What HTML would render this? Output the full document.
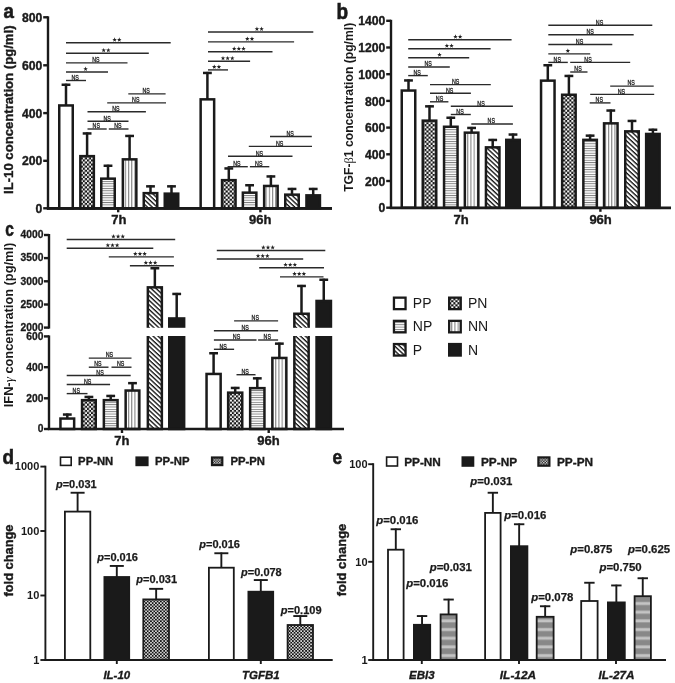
<!DOCTYPE html>
<html><head><meta charset="utf-8"><title>figure</title>
<style>html,body{margin:0;padding:0;background:#fff;}svg{display:block;filter:grayscale(1)}text{font-family:"Liberation Sans",sans-serif;}</style>
</head><body>
<svg width="675" height="683" viewBox="0 0 675 683" font-family="Liberation Sans, sans-serif">
<defs>
<pattern id="pn" width="4.14" height="4.14" patternUnits="userSpaceOnUse"><rect width="4.14" height="4.14" fill="#111"/><rect x="0.05" y="0.05" width="2.0" height="2.0" fill="#fff"/><rect x="2.12" y="2.12" width="2.0" height="2.0" fill="#fff"/></pattern>
<pattern id="pnl" width="2.7" height="2.7" patternUnits="userSpaceOnUse" x="0.5" y="0.4"><rect width="2.7" height="2.7" fill="#111"/><rect x="0" y="0" width="1.3" height="1.3" fill="#f4f4f4"/><rect x="1.35" y="1.35" width="1.3" height="1.3" fill="#f4f4f4"/></pattern>
<pattern id="np" width="2.35" height="2.35" patternUnits="userSpaceOnUse"><rect width="2.35" height="2.35" fill="#fff"/><rect x="0" y="0" width="2.35" height="0.9" fill="#7c7c7c"/></pattern>
<pattern id="nn" width="3.2" height="3.2" patternUnits="userSpaceOnUse"><rect width="3.2" height="3.2" fill="#fff"/><rect x="0" y="0" width="1.1" height="3.2" fill="#858585"/></pattern>
<pattern id="pd" width="3.35" height="3.35" patternUnits="userSpaceOnUse" patternTransform="rotate(43)"><rect width="3.35" height="3.35" fill="#fff"/><rect x="0" y="0" width="3.35" height="1.35" fill="#111"/></pattern>
<linearGradient id="peg" x1="0" y1="0" x2="0" y2="1"><stop offset="0" stop-color="#888"/><stop offset="0.27" stop-color="#888"/><stop offset="0.43" stop-color="#c4c4c4"/><stop offset="0.61" stop-color="#c4c4c4"/><stop offset="0.77" stop-color="#888"/><stop offset="1" stop-color="#888"/></linearGradient>
<pattern id="pe" width="20" height="8.68" patternUnits="userSpaceOnUse"><rect width="20" height="8.68" fill="url(#peg)"/></pattern>
<pattern id="pnd" width="3.3" height="3.3" patternUnits="userSpaceOnUse"><rect width="3.3" height="3.3" fill="#111"/><rect x="0.1" y="0.1" width="1.5" height="1.5" fill="#fff"/><rect x="1.75" y="1.75" width="1.5" height="1.5" fill="#fff"/></pattern>
</defs>
<rect width="675" height="683" fill="#fff"/>
<g opacity="0.999">

<text x="3.60" y="17.60" font-size="20" text-anchor="start" font-weight="bold" font-style="normal" fill="#1a1a1a" textLength="10.4" lengthAdjust="spacingAndGlyphs" stroke="#1a1a1a" stroke-width="0.60">a</text>
<line x1="48.00" y1="16.30" x2="48.00" y2="209.30" stroke="#1a1a1a" stroke-width="2.4" stroke-linecap="butt"/>
<line x1="47.00" y1="208.30" x2="332.00" y2="208.30" stroke="#1a1a1a" stroke-width="2.7" stroke-linecap="butt"/>
<line x1="43.20" y1="17.30" x2="48.00" y2="17.30" stroke="#1a1a1a" stroke-width="2.4" stroke-linecap="butt"/>
<text x="42.40" y="21.90" font-size="12.2" text-anchor="end" font-weight="bold" font-style="normal" fill="#1a1a1a"  stroke="#1a1a1a" stroke-width="0.37">800</text>
<line x1="43.20" y1="65.30" x2="48.00" y2="65.30" stroke="#1a1a1a" stroke-width="2.4" stroke-linecap="butt"/>
<text x="42.40" y="69.90" font-size="12.2" text-anchor="end" font-weight="bold" font-style="normal" fill="#1a1a1a"  stroke="#1a1a1a" stroke-width="0.37">600</text>
<line x1="43.20" y1="113.10" x2="48.00" y2="113.10" stroke="#1a1a1a" stroke-width="2.4" stroke-linecap="butt"/>
<text x="42.40" y="117.70" font-size="12.2" text-anchor="end" font-weight="bold" font-style="normal" fill="#1a1a1a"  stroke="#1a1a1a" stroke-width="0.37">400</text>
<line x1="43.20" y1="160.80" x2="48.00" y2="160.80" stroke="#1a1a1a" stroke-width="2.4" stroke-linecap="butt"/>
<text x="42.40" y="165.40" font-size="12.2" text-anchor="end" font-weight="bold" font-style="normal" fill="#1a1a1a"  stroke="#1a1a1a" stroke-width="0.37">200</text>
<line x1="43.20" y1="208.30" x2="48.00" y2="208.30" stroke="#1a1a1a" stroke-width="2.4" stroke-linecap="butt"/>
<text x="42.40" y="212.90" font-size="12.2" text-anchor="end" font-weight="bold" font-style="normal" fill="#1a1a1a"  stroke="#1a1a1a" stroke-width="0.37">0</text>
<text x="0.00" y="0.00" font-size="12.8" text-anchor="middle" font-weight="bold" font-style="normal" fill="#1a1a1a" transform="translate(12.8,109.7) rotate(-90)" textLength="168.5" lengthAdjust="spacingAndGlyphs" stroke="#1a1a1a" stroke-width="0.38">IL-10 concentration (pg/ml)</text>
<line x1="66.00" y1="83.70" x2="66.00" y2="105.80" stroke="#1a1a1a" stroke-width="2.5" stroke-linecap="butt"/>
<line x1="61.60" y1="84.75" x2="70.40" y2="84.75" stroke="#1a1a1a" stroke-width="2.5" stroke-linecap="butt"/>
<rect x="59.25" y="105.45" width="13.50" height="102.85" fill="#fff" stroke="#1a1a1a" stroke-width="2.5"/>
<line x1="87.10" y1="132.40" x2="87.10" y2="156.50" stroke="#1a1a1a" stroke-width="2.5" stroke-linecap="butt"/>
<line x1="82.70" y1="133.45" x2="91.50" y2="133.45" stroke="#1a1a1a" stroke-width="2.5" stroke-linecap="butt"/>
<rect x="80.35" y="156.15" width="13.50" height="52.15" fill="url(#pn)" stroke="#1a1a1a" stroke-width="2.5"/>
<line x1="108.00" y1="164.70" x2="108.00" y2="179.00" stroke="#1a1a1a" stroke-width="2.5" stroke-linecap="butt"/>
<line x1="103.60" y1="165.75" x2="112.40" y2="165.75" stroke="#1a1a1a" stroke-width="2.5" stroke-linecap="butt"/>
<rect x="101.25" y="178.65" width="13.50" height="29.65" fill="url(#np)" stroke="#1a1a1a" stroke-width="2.5"/>
<line x1="129.60" y1="134.90" x2="129.60" y2="159.70" stroke="#1a1a1a" stroke-width="2.5" stroke-linecap="butt"/>
<line x1="125.20" y1="135.95" x2="134.00" y2="135.95" stroke="#1a1a1a" stroke-width="2.5" stroke-linecap="butt"/>
<rect x="122.85" y="159.35" width="13.50" height="48.95" fill="url(#nn)" stroke="#1a1a1a" stroke-width="2.5"/>
<line x1="150.50" y1="185.30" x2="150.50" y2="193.50" stroke="#1a1a1a" stroke-width="2.5" stroke-linecap="butt"/>
<line x1="146.10" y1="186.35" x2="154.90" y2="186.35" stroke="#1a1a1a" stroke-width="2.5" stroke-linecap="butt"/>
<rect x="143.75" y="193.15" width="13.50" height="15.15" fill="url(#pd)" stroke="#1a1a1a" stroke-width="2.5"/>
<line x1="171.50" y1="185.30" x2="171.50" y2="194.00" stroke="#1a1a1a" stroke-width="2.5" stroke-linecap="butt"/>
<line x1="167.10" y1="186.35" x2="175.90" y2="186.35" stroke="#1a1a1a" stroke-width="2.5" stroke-linecap="butt"/>
<rect x="164.75" y="193.65" width="13.50" height="14.65" fill="#1a1a1a" stroke="#1a1a1a" stroke-width="2.5"/>
<line x1="207.40" y1="71.90" x2="207.40" y2="99.70" stroke="#1a1a1a" stroke-width="2.5" stroke-linecap="butt"/>
<line x1="203.00" y1="72.95" x2="211.80" y2="72.95" stroke="#1a1a1a" stroke-width="2.5" stroke-linecap="butt"/>
<rect x="200.65" y="99.35" width="13.50" height="108.95" fill="#fff" stroke="#1a1a1a" stroke-width="2.5"/>
<line x1="228.80" y1="167.40" x2="228.80" y2="180.50" stroke="#1a1a1a" stroke-width="2.5" stroke-linecap="butt"/>
<line x1="224.40" y1="168.45" x2="233.20" y2="168.45" stroke="#1a1a1a" stroke-width="2.5" stroke-linecap="butt"/>
<rect x="222.05" y="180.15" width="13.50" height="28.15" fill="url(#pn)" stroke="#1a1a1a" stroke-width="2.5"/>
<line x1="249.60" y1="184.20" x2="249.60" y2="193.00" stroke="#1a1a1a" stroke-width="2.5" stroke-linecap="butt"/>
<line x1="245.20" y1="185.25" x2="254.00" y2="185.25" stroke="#1a1a1a" stroke-width="2.5" stroke-linecap="butt"/>
<rect x="242.85" y="192.65" width="13.50" height="15.65" fill="url(#np)" stroke="#1a1a1a" stroke-width="2.5"/>
<line x1="270.90" y1="175.40" x2="270.90" y2="186.30" stroke="#1a1a1a" stroke-width="2.5" stroke-linecap="butt"/>
<line x1="266.50" y1="176.45" x2="275.30" y2="176.45" stroke="#1a1a1a" stroke-width="2.5" stroke-linecap="butt"/>
<rect x="264.15" y="185.95" width="13.50" height="22.35" fill="url(#nn)" stroke="#1a1a1a" stroke-width="2.5"/>
<line x1="292.00" y1="187.90" x2="292.00" y2="195.00" stroke="#1a1a1a" stroke-width="2.5" stroke-linecap="butt"/>
<line x1="287.60" y1="188.95" x2="296.40" y2="188.95" stroke="#1a1a1a" stroke-width="2.5" stroke-linecap="butt"/>
<rect x="285.25" y="194.65" width="13.50" height="13.65" fill="url(#pd)" stroke="#1a1a1a" stroke-width="2.5"/>
<line x1="313.20" y1="187.90" x2="313.20" y2="195.70" stroke="#1a1a1a" stroke-width="2.5" stroke-linecap="butt"/>
<line x1="308.80" y1="188.95" x2="317.60" y2="188.95" stroke="#1a1a1a" stroke-width="2.5" stroke-linecap="butt"/>
<rect x="306.45" y="195.35" width="13.50" height="12.95" fill="#1a1a1a" stroke="#1a1a1a" stroke-width="2.5"/>
<line x1="46.80" y1="208.30" x2="332.00" y2="208.30" stroke="#1a1a1a" stroke-width="2.7" stroke-linecap="butt"/>
<line x1="118.20" y1="208.30" x2="118.20" y2="212.30" stroke="#1a1a1a" stroke-width="2.4" stroke-linecap="butt"/>
<text x="118.90" y="223.90" font-size="13" text-anchor="middle" font-weight="bold" font-style="normal" fill="#1a1a1a"  stroke="#1a1a1a" stroke-width="0.39">7h</text>
<line x1="260.40" y1="208.30" x2="260.40" y2="212.30" stroke="#1a1a1a" stroke-width="2.4" stroke-linecap="butt"/>
<text x="260.30" y="223.90" font-size="13" text-anchor="middle" font-weight="bold" font-style="normal" fill="#1a1a1a"  stroke="#1a1a1a" stroke-width="0.39">96h</text>
<line x1="66.00" y1="42.70" x2="170.70" y2="42.70" stroke="#2a2a2a" stroke-width="1.4" stroke-linecap="butt"/>
<polygon points="114.62,37.30 115.21,38.89 116.91,38.96 115.58,40.01 116.04,41.64 114.62,40.70 113.21,41.64 113.67,40.01 112.34,38.96 114.04,38.89" fill="#222"/>
<polygon points="119.27,37.30 119.86,38.89 121.56,38.96 120.23,40.01 120.69,41.64 119.27,40.70 117.86,41.64 118.32,40.01 116.99,38.96 118.69,38.89" fill="#222"/>
<line x1="66.00" y1="53.30" x2="148.80" y2="53.30" stroke="#2a2a2a" stroke-width="1.4" stroke-linecap="butt"/>
<polygon points="103.67,47.90 104.26,49.49 105.96,49.56 104.63,50.61 105.09,52.24 103.67,51.30 102.26,52.24 102.72,50.61 101.39,49.56 103.09,49.49" fill="#222"/>
<polygon points="108.33,47.90 108.91,49.49 110.61,49.56 109.28,50.61 109.74,52.24 108.33,51.30 106.91,52.24 107.37,50.61 106.04,49.56 107.74,49.49" fill="#222"/>
<line x1="66.00" y1="62.90" x2="127.50" y2="62.90" stroke="#2a2a2a" stroke-width="1.4" stroke-linecap="butt"/>
<text x="95.95" y="62.10" font-size="6.4" text-anchor="middle" font-weight="normal" font-style="normal" fill="#1a1a1a" stroke="#222" stroke-width="0.3" textLength="7.4" lengthAdjust="spacingAndGlyphs">NS</text>
<line x1="66.00" y1="72.00" x2="108.00" y2="72.00" stroke="#2a2a2a" stroke-width="1.4" stroke-linecap="butt"/>
<polygon points="85.60,66.60 86.19,68.19 87.88,68.26 86.55,69.31 87.01,70.94 85.60,70.00 84.19,70.94 84.65,69.31 83.32,68.26 85.01,68.19" fill="#222"/>
<line x1="66.00" y1="80.50" x2="86.00" y2="80.50" stroke="#2a2a2a" stroke-width="1.4" stroke-linecap="butt"/>
<text x="75.20" y="79.70" font-size="6.4" text-anchor="middle" font-weight="normal" font-style="normal" fill="#1a1a1a" stroke="#222" stroke-width="0.3" textLength="7.4" lengthAdjust="spacingAndGlyphs">NS</text>
<line x1="128.30" y1="93.90" x2="165.60" y2="93.90" stroke="#2a2a2a" stroke-width="1.4" stroke-linecap="butt"/>
<text x="146.15" y="93.10" font-size="6.4" text-anchor="middle" font-weight="normal" font-style="normal" fill="#1a1a1a" stroke="#222" stroke-width="0.3" textLength="7.4" lengthAdjust="spacingAndGlyphs">NS</text>
<line x1="107.20" y1="102.90" x2="166.00" y2="102.90" stroke="#2a2a2a" stroke-width="1.4" stroke-linecap="butt"/>
<text x="135.80" y="102.10" font-size="6.4" text-anchor="middle" font-weight="normal" font-style="normal" fill="#1a1a1a" stroke="#222" stroke-width="0.3" textLength="7.4" lengthAdjust="spacingAndGlyphs">NS</text>
<line x1="87.50" y1="111.70" x2="145.90" y2="111.70" stroke="#2a2a2a" stroke-width="1.4" stroke-linecap="butt"/>
<text x="115.90" y="110.90" font-size="6.4" text-anchor="middle" font-weight="normal" font-style="normal" fill="#1a1a1a" stroke="#222" stroke-width="0.3" textLength="7.4" lengthAdjust="spacingAndGlyphs">NS</text>
<line x1="87.50" y1="121.30" x2="128.50" y2="121.30" stroke="#2a2a2a" stroke-width="1.4" stroke-linecap="butt"/>
<text x="107.20" y="120.50" font-size="6.4" text-anchor="middle" font-weight="normal" font-style="normal" fill="#1a1a1a" stroke="#222" stroke-width="0.3" textLength="7.4" lengthAdjust="spacingAndGlyphs">NS</text>
<line x1="87.50" y1="129.00" x2="106.70" y2="129.00" stroke="#2a2a2a" stroke-width="1.4" stroke-linecap="butt"/>
<text x="96.30" y="128.20" font-size="6.4" text-anchor="middle" font-weight="normal" font-style="normal" fill="#1a1a1a" stroke="#222" stroke-width="0.3" textLength="7.4" lengthAdjust="spacingAndGlyphs">NS</text>
<line x1="108.80" y1="129.00" x2="128.50" y2="129.00" stroke="#2a2a2a" stroke-width="1.4" stroke-linecap="butt"/>
<text x="117.85" y="128.20" font-size="6.4" text-anchor="middle" font-weight="normal" font-style="normal" fill="#1a1a1a" stroke="#222" stroke-width="0.3" textLength="7.4" lengthAdjust="spacingAndGlyphs">NS</text>
<line x1="208.00" y1="32.00" x2="313.30" y2="32.00" stroke="#2a2a2a" stroke-width="1.4" stroke-linecap="butt"/>
<polygon points="256.93,26.60 257.51,28.19 259.21,28.26 257.88,29.31 258.34,30.94 256.93,30.00 255.51,30.94 255.97,29.31 254.64,28.26 256.34,28.19" fill="#222"/>
<polygon points="261.57,26.60 262.16,28.19 263.86,28.26 262.53,29.31 262.99,30.94 261.57,30.00 260.16,30.94 260.62,29.31 259.29,28.26 260.99,28.19" fill="#222"/>
<line x1="208.00" y1="41.90" x2="294.10" y2="41.90" stroke="#2a2a2a" stroke-width="1.4" stroke-linecap="butt"/>
<polygon points="247.33,36.50 247.91,38.09 249.61,38.16 248.28,39.21 248.74,40.84 247.33,39.90 245.91,40.84 246.37,39.21 245.04,38.16 246.74,38.09" fill="#222"/>
<polygon points="251.97,36.50 252.56,38.09 254.26,38.16 252.93,39.21 253.39,40.84 251.97,39.90 250.56,40.84 251.02,39.21 249.69,38.16 251.39,38.09" fill="#222"/>
<line x1="208.00" y1="51.70" x2="272.50" y2="51.70" stroke="#2a2a2a" stroke-width="1.4" stroke-linecap="butt"/>
<polygon points="234.20,46.30 234.79,47.89 236.48,47.96 235.15,49.01 235.61,50.64 234.20,49.70 232.79,50.64 233.25,49.01 231.92,47.96 233.61,47.89" fill="#222"/>
<polygon points="238.85,46.30 239.44,47.89 241.13,47.96 239.80,49.01 240.26,50.64 238.85,49.70 237.44,50.64 237.90,49.01 236.57,47.96 238.26,47.89" fill="#222"/>
<polygon points="243.50,46.30 244.09,47.89 245.78,47.96 244.45,49.01 244.91,50.64 243.50,49.70 242.09,50.64 242.55,49.01 241.22,47.96 242.91,47.89" fill="#222"/>
<line x1="208.00" y1="61.30" x2="250.10" y2="61.30" stroke="#2a2a2a" stroke-width="1.4" stroke-linecap="butt"/>
<polygon points="223.00,55.90 223.59,57.49 225.28,57.56 223.95,58.61 224.41,60.24 223.00,59.30 221.59,60.24 222.05,58.61 220.72,57.56 222.41,57.49" fill="#222"/>
<polygon points="227.65,55.90 228.24,57.49 229.93,57.56 228.60,58.61 229.06,60.24 227.65,59.30 226.24,60.24 226.70,58.61 225.37,57.56 227.06,57.49" fill="#222"/>
<polygon points="232.30,55.90 232.89,57.49 234.58,57.56 233.25,58.61 233.71,60.24 232.30,59.30 230.89,60.24 231.35,58.61 230.02,57.56 231.71,57.49" fill="#222"/>
<line x1="208.00" y1="69.90" x2="228.00" y2="69.90" stroke="#2a2a2a" stroke-width="1.4" stroke-linecap="butt"/>
<polygon points="214.28,64.50 214.86,66.09 216.56,66.16 215.23,67.21 215.69,68.84 214.28,67.90 212.86,68.84 213.32,67.21 211.99,66.16 213.69,66.09" fill="#222"/>
<polygon points="218.92,64.50 219.51,66.09 221.21,66.16 219.88,67.21 220.34,68.84 218.92,67.90 217.51,68.84 217.97,67.21 216.64,66.16 218.34,66.09" fill="#222"/>
<line x1="270.00" y1="136.50" x2="311.80" y2="136.50" stroke="#2a2a2a" stroke-width="1.4" stroke-linecap="butt"/>
<text x="290.10" y="135.70" font-size="6.4" text-anchor="middle" font-weight="normal" font-style="normal" fill="#1a1a1a" stroke="#222" stroke-width="0.3" textLength="7.4" lengthAdjust="spacingAndGlyphs">NS</text>
<line x1="248.80" y1="146.40" x2="312.00" y2="146.40" stroke="#2a2a2a" stroke-width="1.4" stroke-linecap="butt"/>
<text x="279.60" y="145.60" font-size="6.4" text-anchor="middle" font-weight="normal" font-style="normal" fill="#1a1a1a" stroke="#222" stroke-width="0.3" textLength="7.4" lengthAdjust="spacingAndGlyphs">NS</text>
<line x1="228.00" y1="156.30" x2="292.50" y2="156.30" stroke="#2a2a2a" stroke-width="1.4" stroke-linecap="butt"/>
<text x="259.45" y="155.50" font-size="6.4" text-anchor="middle" font-weight="normal" font-style="normal" fill="#1a1a1a" stroke="#222" stroke-width="0.3" textLength="7.4" lengthAdjust="spacingAndGlyphs">NS</text>
<line x1="227.60" y1="166.70" x2="247.80" y2="166.70" stroke="#2a2a2a" stroke-width="1.4" stroke-linecap="butt"/>
<text x="236.90" y="165.90" font-size="6.4" text-anchor="middle" font-weight="normal" font-style="normal" fill="#1a1a1a" stroke="#222" stroke-width="0.3" textLength="7.4" lengthAdjust="spacingAndGlyphs">NS</text>
<line x1="249.90" y1="166.70" x2="269.30" y2="166.70" stroke="#2a2a2a" stroke-width="1.4" stroke-linecap="butt"/>
<text x="258.80" y="165.90" font-size="6.4" text-anchor="middle" font-weight="normal" font-style="normal" fill="#1a1a1a" stroke="#222" stroke-width="0.3" textLength="7.4" lengthAdjust="spacingAndGlyphs">NS</text>
<text x="336.60" y="18.60" font-size="22" text-anchor="start" font-weight="bold" font-style="normal" fill="#1a1a1a" textLength="11.6" lengthAdjust="spacingAndGlyphs" stroke="#1a1a1a" stroke-width="0.66">b</text>
<line x1="391.00" y1="19.80" x2="391.00" y2="208.80" stroke="#1a1a1a" stroke-width="2.4" stroke-linecap="butt"/>
<line x1="386.20" y1="20.80" x2="391.00" y2="20.80" stroke="#1a1a1a" stroke-width="2.4" stroke-linecap="butt"/>
<text x="385.40" y="25.40" font-size="12.2" text-anchor="end" font-weight="bold" font-style="normal" fill="#1a1a1a"  stroke="#1a1a1a" stroke-width="0.37">1400</text>
<line x1="386.20" y1="47.50" x2="391.00" y2="47.50" stroke="#1a1a1a" stroke-width="2.4" stroke-linecap="butt"/>
<text x="385.40" y="52.10" font-size="12.2" text-anchor="end" font-weight="bold" font-style="normal" fill="#1a1a1a"  stroke="#1a1a1a" stroke-width="0.37">1200</text>
<line x1="386.20" y1="74.20" x2="391.00" y2="74.20" stroke="#1a1a1a" stroke-width="2.4" stroke-linecap="butt"/>
<text x="385.40" y="78.80" font-size="12.2" text-anchor="end" font-weight="bold" font-style="normal" fill="#1a1a1a"  stroke="#1a1a1a" stroke-width="0.37">1000</text>
<line x1="386.20" y1="100.90" x2="391.00" y2="100.90" stroke="#1a1a1a" stroke-width="2.4" stroke-linecap="butt"/>
<text x="385.40" y="105.50" font-size="12.2" text-anchor="end" font-weight="bold" font-style="normal" fill="#1a1a1a"  stroke="#1a1a1a" stroke-width="0.37">800</text>
<line x1="386.20" y1="127.60" x2="391.00" y2="127.60" stroke="#1a1a1a" stroke-width="2.4" stroke-linecap="butt"/>
<text x="385.40" y="132.20" font-size="12.2" text-anchor="end" font-weight="bold" font-style="normal" fill="#1a1a1a"  stroke="#1a1a1a" stroke-width="0.37">600</text>
<line x1="386.20" y1="154.30" x2="391.00" y2="154.30" stroke="#1a1a1a" stroke-width="2.4" stroke-linecap="butt"/>
<text x="385.40" y="158.90" font-size="12.2" text-anchor="end" font-weight="bold" font-style="normal" fill="#1a1a1a"  stroke="#1a1a1a" stroke-width="0.37">400</text>
<line x1="386.20" y1="181.00" x2="391.00" y2="181.00" stroke="#1a1a1a" stroke-width="2.4" stroke-linecap="butt"/>
<text x="385.40" y="185.60" font-size="12.2" text-anchor="end" font-weight="bold" font-style="normal" fill="#1a1a1a"  stroke="#1a1a1a" stroke-width="0.37">200</text>
<line x1="386.20" y1="207.70" x2="391.00" y2="207.70" stroke="#1a1a1a" stroke-width="2.4" stroke-linecap="butt"/>
<text x="385.40" y="212.30" font-size="12.2" text-anchor="end" font-weight="bold" font-style="normal" fill="#1a1a1a"  stroke="#1a1a1a" stroke-width="0.37">0</text>
<text transform="translate(352.6,107.3) rotate(-90)" font-size="12.8" font-weight="bold" text-anchor="middle" textLength="169" lengthAdjust="spacingAndGlyphs" fill="#1a1a1a">TGF-<tspan font-family="Liberation Serif, serif" font-weight="normal" font-size="13">β</tspan>1 concentration (pg/ml)</text>
<line x1="408.50" y1="79.40" x2="408.50" y2="90.90" stroke="#1a1a1a" stroke-width="2.5" stroke-linecap="butt"/>
<line x1="404.10" y1="80.45" x2="412.90" y2="80.45" stroke="#1a1a1a" stroke-width="2.5" stroke-linecap="butt"/>
<rect x="401.75" y="90.55" width="13.50" height="117.25" fill="#fff" stroke="#1a1a1a" stroke-width="2.5"/>
<line x1="429.50" y1="105.30" x2="429.50" y2="121.00" stroke="#1a1a1a" stroke-width="2.5" stroke-linecap="butt"/>
<line x1="425.10" y1="106.35" x2="433.90" y2="106.35" stroke="#1a1a1a" stroke-width="2.5" stroke-linecap="butt"/>
<rect x="422.75" y="120.65" width="13.50" height="87.15" fill="url(#pn)" stroke="#1a1a1a" stroke-width="2.5"/>
<line x1="450.80" y1="116.70" x2="450.80" y2="127.10" stroke="#1a1a1a" stroke-width="2.5" stroke-linecap="butt"/>
<line x1="446.40" y1="117.75" x2="455.20" y2="117.75" stroke="#1a1a1a" stroke-width="2.5" stroke-linecap="butt"/>
<rect x="444.05" y="126.75" width="13.50" height="81.05" fill="url(#np)" stroke="#1a1a1a" stroke-width="2.5"/>
<line x1="471.60" y1="126.90" x2="471.60" y2="133.00" stroke="#1a1a1a" stroke-width="2.5" stroke-linecap="butt"/>
<line x1="467.20" y1="127.95" x2="476.00" y2="127.95" stroke="#1a1a1a" stroke-width="2.5" stroke-linecap="butt"/>
<rect x="464.85" y="132.65" width="13.50" height="75.15" fill="url(#nn)" stroke="#1a1a1a" stroke-width="2.5"/>
<line x1="492.70" y1="138.90" x2="492.70" y2="147.70" stroke="#1a1a1a" stroke-width="2.5" stroke-linecap="butt"/>
<line x1="488.30" y1="139.95" x2="497.10" y2="139.95" stroke="#1a1a1a" stroke-width="2.5" stroke-linecap="butt"/>
<rect x="485.95" y="147.35" width="13.50" height="60.45" fill="url(#pd)" stroke="#1a1a1a" stroke-width="2.5"/>
<line x1="513.00" y1="133.50" x2="513.00" y2="140.20" stroke="#1a1a1a" stroke-width="2.5" stroke-linecap="butt"/>
<line x1="508.60" y1="134.55" x2="517.40" y2="134.55" stroke="#1a1a1a" stroke-width="2.5" stroke-linecap="butt"/>
<rect x="506.25" y="139.85" width="13.50" height="67.95" fill="#1a1a1a" stroke="#1a1a1a" stroke-width="2.5"/>
<line x1="547.80" y1="64.20" x2="547.80" y2="81.00" stroke="#1a1a1a" stroke-width="2.5" stroke-linecap="butt"/>
<line x1="543.40" y1="65.25" x2="552.20" y2="65.25" stroke="#1a1a1a" stroke-width="2.5" stroke-linecap="butt"/>
<rect x="541.05" y="80.65" width="13.50" height="127.15" fill="#fff" stroke="#1a1a1a" stroke-width="2.5"/>
<line x1="568.90" y1="74.90" x2="568.90" y2="95.10" stroke="#1a1a1a" stroke-width="2.5" stroke-linecap="butt"/>
<line x1="564.50" y1="75.95" x2="573.30" y2="75.95" stroke="#1a1a1a" stroke-width="2.5" stroke-linecap="butt"/>
<rect x="562.15" y="94.75" width="13.50" height="113.05" fill="url(#pn)" stroke="#1a1a1a" stroke-width="2.5"/>
<line x1="590.10" y1="134.60" x2="590.10" y2="140.20" stroke="#1a1a1a" stroke-width="2.5" stroke-linecap="butt"/>
<line x1="585.70" y1="135.65" x2="594.50" y2="135.65" stroke="#1a1a1a" stroke-width="2.5" stroke-linecap="butt"/>
<rect x="583.35" y="139.85" width="13.50" height="67.95" fill="url(#np)" stroke="#1a1a1a" stroke-width="2.5"/>
<line x1="610.80" y1="109.50" x2="610.80" y2="123.70" stroke="#1a1a1a" stroke-width="2.5" stroke-linecap="butt"/>
<line x1="606.40" y1="110.55" x2="615.20" y2="110.55" stroke="#1a1a1a" stroke-width="2.5" stroke-linecap="butt"/>
<rect x="604.05" y="123.35" width="13.50" height="84.45" fill="url(#nn)" stroke="#1a1a1a" stroke-width="2.5"/>
<line x1="632.00" y1="119.90" x2="632.00" y2="131.70" stroke="#1a1a1a" stroke-width="2.5" stroke-linecap="butt"/>
<line x1="627.60" y1="120.95" x2="636.40" y2="120.95" stroke="#1a1a1a" stroke-width="2.5" stroke-linecap="butt"/>
<rect x="625.25" y="131.35" width="13.50" height="76.45" fill="url(#pd)" stroke="#1a1a1a" stroke-width="2.5"/>
<line x1="652.90" y1="128.70" x2="652.90" y2="134.30" stroke="#1a1a1a" stroke-width="2.5" stroke-linecap="butt"/>
<line x1="648.50" y1="129.75" x2="657.30" y2="129.75" stroke="#1a1a1a" stroke-width="2.5" stroke-linecap="butt"/>
<rect x="646.15" y="133.95" width="13.50" height="73.85" fill="#1a1a1a" stroke="#1a1a1a" stroke-width="2.5"/>
<line x1="389.80" y1="207.80" x2="671.00" y2="207.80" stroke="#1a1a1a" stroke-width="2.7" stroke-linecap="butt"/>
<line x1="460.50" y1="207.80" x2="460.50" y2="211.80" stroke="#1a1a1a" stroke-width="2.4" stroke-linecap="butt"/>
<text x="461.10" y="223.90" font-size="13" text-anchor="middle" font-weight="bold" font-style="normal" fill="#1a1a1a"  stroke="#1a1a1a" stroke-width="0.39">7h</text>
<line x1="600.40" y1="207.80" x2="600.40" y2="211.80" stroke="#1a1a1a" stroke-width="2.4" stroke-linecap="butt"/>
<text x="600.60" y="223.90" font-size="13" text-anchor="middle" font-weight="bold" font-style="normal" fill="#1a1a1a"  stroke="#1a1a1a" stroke-width="0.39">96h</text>
<line x1="408.20" y1="39.70" x2="511.60" y2="39.70" stroke="#2a2a2a" stroke-width="1.4" stroke-linecap="butt"/>
<polygon points="455.48,34.30 456.06,35.89 457.76,35.96 456.43,37.01 456.89,38.64 455.48,37.70 454.06,38.64 454.52,37.01 453.19,35.96 454.89,35.89" fill="#222"/>
<polygon points="460.12,34.30 460.71,35.89 462.41,35.96 461.08,37.01 461.54,38.64 460.12,37.70 458.71,38.64 459.17,37.01 457.84,35.96 459.54,35.89" fill="#222"/>
<line x1="408.20" y1="48.80" x2="490.60" y2="48.80" stroke="#2a2a2a" stroke-width="1.4" stroke-linecap="butt"/>
<polygon points="446.88,43.40 447.46,44.99 449.16,45.06 447.83,46.11 448.29,47.74 446.88,46.80 445.46,47.74 445.92,46.11 444.59,45.06 446.29,44.99" fill="#222"/>
<polygon points="451.52,43.40 452.11,44.99 453.81,45.06 452.48,46.11 452.94,47.74 451.52,46.80 450.11,47.74 450.57,46.11 449.24,45.06 450.94,44.99" fill="#222"/>
<line x1="408.20" y1="57.80" x2="469.20" y2="57.80" stroke="#2a2a2a" stroke-width="1.4" stroke-linecap="butt"/>
<polygon points="439.50,52.40 440.09,53.99 441.78,54.06 440.45,55.11 440.91,56.74 439.50,55.80 438.09,56.74 438.55,55.11 437.22,54.06 438.91,53.99" fill="#222"/>
<line x1="408.20" y1="67.00" x2="449.80" y2="67.00" stroke="#2a2a2a" stroke-width="1.4" stroke-linecap="butt"/>
<text x="428.20" y="66.20" font-size="6.4" text-anchor="middle" font-weight="normal" font-style="normal" fill="#1a1a1a" stroke="#222" stroke-width="0.3" textLength="7.4" lengthAdjust="spacingAndGlyphs">NS</text>
<line x1="408.20" y1="75.60" x2="427.80" y2="75.60" stroke="#2a2a2a" stroke-width="1.4" stroke-linecap="butt"/>
<text x="417.20" y="74.80" font-size="6.4" text-anchor="middle" font-weight="normal" font-style="normal" fill="#1a1a1a" stroke="#222" stroke-width="0.3" textLength="7.4" lengthAdjust="spacingAndGlyphs">NS</text>
<line x1="430.00" y1="84.60" x2="490.80" y2="84.60" stroke="#2a2a2a" stroke-width="1.4" stroke-linecap="butt"/>
<text x="455.60" y="83.80" font-size="6.4" text-anchor="middle" font-weight="normal" font-style="normal" fill="#1a1a1a" stroke="#222" stroke-width="0.3" textLength="7.4" lengthAdjust="spacingAndGlyphs">NS</text>
<line x1="430.00" y1="93.30" x2="470.90" y2="93.30" stroke="#2a2a2a" stroke-width="1.4" stroke-linecap="butt"/>
<text x="449.65" y="92.50" font-size="6.4" text-anchor="middle" font-weight="normal" font-style="normal" fill="#1a1a1a" stroke="#222" stroke-width="0.3" textLength="7.4" lengthAdjust="spacingAndGlyphs">NS</text>
<line x1="430.00" y1="101.80" x2="448.40" y2="101.80" stroke="#2a2a2a" stroke-width="1.4" stroke-linecap="butt"/>
<text x="439.50" y="101.00" font-size="6.4" text-anchor="middle" font-weight="normal" font-style="normal" fill="#1a1a1a" stroke="#222" stroke-width="0.3" textLength="7.4" lengthAdjust="spacingAndGlyphs">NS</text>
<line x1="450.80" y1="106.30" x2="512.90" y2="106.30" stroke="#2a2a2a" stroke-width="1.4" stroke-linecap="butt"/>
<text x="481.05" y="105.50" font-size="6.4" text-anchor="middle" font-weight="normal" font-style="normal" fill="#1a1a1a" stroke="#222" stroke-width="0.3" textLength="7.4" lengthAdjust="spacingAndGlyphs">NS</text>
<line x1="450.80" y1="114.50" x2="470.80" y2="114.50" stroke="#2a2a2a" stroke-width="1.4" stroke-linecap="butt"/>
<text x="460.00" y="113.70" font-size="6.4" text-anchor="middle" font-weight="normal" font-style="normal" fill="#1a1a1a" stroke="#222" stroke-width="0.3" textLength="7.4" lengthAdjust="spacingAndGlyphs">NS</text>
<line x1="471.30" y1="124.00" x2="512.90" y2="124.00" stroke="#2a2a2a" stroke-width="1.4" stroke-linecap="butt"/>
<text x="491.30" y="123.20" font-size="6.4" text-anchor="middle" font-weight="normal" font-style="normal" fill="#1a1a1a" stroke="#222" stroke-width="0.3" textLength="7.4" lengthAdjust="spacingAndGlyphs">NS</text>
<line x1="548.30" y1="25.30" x2="652.30" y2="25.30" stroke="#2a2a2a" stroke-width="1.4" stroke-linecap="butt"/>
<text x="599.50" y="24.50" font-size="6.4" text-anchor="middle" font-weight="normal" font-style="normal" fill="#1a1a1a" stroke="#222" stroke-width="0.3" textLength="7.4" lengthAdjust="spacingAndGlyphs">NS</text>
<line x1="548.30" y1="34.70" x2="633.70" y2="34.70" stroke="#2a2a2a" stroke-width="1.4" stroke-linecap="butt"/>
<text x="590.20" y="33.90" font-size="6.4" text-anchor="middle" font-weight="normal" font-style="normal" fill="#1a1a1a" stroke="#222" stroke-width="0.3" textLength="7.4" lengthAdjust="spacingAndGlyphs">NS</text>
<line x1="548.30" y1="44.50" x2="612.30" y2="44.50" stroke="#2a2a2a" stroke-width="1.4" stroke-linecap="butt"/>
<text x="579.50" y="43.70" font-size="6.4" text-anchor="middle" font-weight="normal" font-style="normal" fill="#1a1a1a" stroke="#222" stroke-width="0.3" textLength="7.4" lengthAdjust="spacingAndGlyphs">NS</text>
<line x1="548.30" y1="53.90" x2="590.20" y2="53.90" stroke="#2a2a2a" stroke-width="1.4" stroke-linecap="butt"/>
<polygon points="567.85,48.50 568.44,50.09 570.13,50.16 568.80,51.21 569.26,52.84 567.85,51.90 566.44,52.84 566.90,51.21 565.57,50.16 567.26,50.09" fill="#222"/>
<line x1="548.30" y1="62.40" x2="567.80" y2="62.40" stroke="#2a2a2a" stroke-width="1.4" stroke-linecap="butt"/>
<text x="557.25" y="61.60" font-size="6.4" text-anchor="middle" font-weight="normal" font-style="normal" fill="#1a1a1a" stroke="#222" stroke-width="0.3" textLength="7.4" lengthAdjust="spacingAndGlyphs">NS</text>
<line x1="570.20" y1="62.40" x2="630.20" y2="62.40" stroke="#2a2a2a" stroke-width="1.4" stroke-linecap="butt"/>
<text x="588.00" y="61.60" font-size="6.4" text-anchor="middle" font-weight="normal" font-style="normal" fill="#1a1a1a" stroke="#222" stroke-width="0.3" textLength="7.4" lengthAdjust="spacingAndGlyphs">NS</text>
<line x1="570.20" y1="72.00" x2="587.50" y2="72.00" stroke="#2a2a2a" stroke-width="1.4" stroke-linecap="butt"/>
<text x="578.05" y="71.20" font-size="6.4" text-anchor="middle" font-weight="normal" font-style="normal" fill="#1a1a1a" stroke="#222" stroke-width="0.3" textLength="7.4" lengthAdjust="spacingAndGlyphs">NS</text>
<line x1="610.20" y1="86.10" x2="653.70" y2="86.10" stroke="#2a2a2a" stroke-width="1.4" stroke-linecap="butt"/>
<text x="631.15" y="85.30" font-size="6.4" text-anchor="middle" font-weight="normal" font-style="normal" fill="#1a1a1a" stroke="#222" stroke-width="0.3" textLength="7.4" lengthAdjust="spacingAndGlyphs">NS</text>
<line x1="590.20" y1="94.40" x2="654.20" y2="94.40" stroke="#2a2a2a" stroke-width="1.4" stroke-linecap="butt"/>
<text x="621.40" y="93.60" font-size="6.4" text-anchor="middle" font-weight="normal" font-style="normal" fill="#1a1a1a" stroke="#222" stroke-width="0.3" textLength="7.4" lengthAdjust="spacingAndGlyphs">NS</text>
<line x1="589.70" y1="102.90" x2="610.50" y2="102.90" stroke="#2a2a2a" stroke-width="1.4" stroke-linecap="butt"/>
<text x="599.30" y="102.10" font-size="6.4" text-anchor="middle" font-weight="normal" font-style="normal" fill="#1a1a1a" stroke="#222" stroke-width="0.3" textLength="7.4" lengthAdjust="spacingAndGlyphs">NS</text>
<text x="5.20" y="236.30" font-size="20" text-anchor="start" font-weight="bold" font-style="normal" fill="#1a1a1a" textLength="8.6" lengthAdjust="spacingAndGlyphs" stroke="#1a1a1a" stroke-width="0.60">c</text>
<line x1="49.00" y1="234.00" x2="49.00" y2="328.60" stroke="#1a1a1a" stroke-width="2.4" stroke-linecap="butt"/>
<line x1="49.00" y1="335.40" x2="49.00" y2="430.00" stroke="#1a1a1a" stroke-width="2.4" stroke-linecap="butt"/>
<line x1="44.00" y1="235.00" x2="49.00" y2="235.00" stroke="#1a1a1a" stroke-width="2.4" stroke-linecap="butt"/>
<text x="43.50" y="238.30" font-size="10.3" text-anchor="end" font-weight="bold" font-style="normal" fill="#1a1a1a"  stroke="#1a1a1a" stroke-width="0.31">4000</text>
<line x1="44.00" y1="258.10" x2="49.00" y2="258.10" stroke="#1a1a1a" stroke-width="2.4" stroke-linecap="butt"/>
<text x="43.50" y="261.40" font-size="10.3" text-anchor="end" font-weight="bold" font-style="normal" fill="#1a1a1a"  stroke="#1a1a1a" stroke-width="0.31">3500</text>
<line x1="44.00" y1="281.30" x2="49.00" y2="281.30" stroke="#1a1a1a" stroke-width="2.4" stroke-linecap="butt"/>
<text x="43.50" y="284.60" font-size="10.3" text-anchor="end" font-weight="bold" font-style="normal" fill="#1a1a1a"  stroke="#1a1a1a" stroke-width="0.31">3000</text>
<line x1="44.00" y1="304.50" x2="49.00" y2="304.50" stroke="#1a1a1a" stroke-width="2.4" stroke-linecap="butt"/>
<text x="43.50" y="307.80" font-size="10.3" text-anchor="end" font-weight="bold" font-style="normal" fill="#1a1a1a"  stroke="#1a1a1a" stroke-width="0.31">2500</text>
<line x1="44.00" y1="327.60" x2="49.00" y2="327.60" stroke="#1a1a1a" stroke-width="2.4" stroke-linecap="butt"/>
<text x="43.50" y="330.90" font-size="10.3" text-anchor="end" font-weight="bold" font-style="normal" fill="#1a1a1a"  stroke="#1a1a1a" stroke-width="0.31">2000</text>
<line x1="44.00" y1="336.40" x2="49.00" y2="336.40" stroke="#1a1a1a" stroke-width="2.4" stroke-linecap="butt"/>
<text x="43.50" y="339.80" font-size="10.3" text-anchor="end" font-weight="bold" font-style="normal" fill="#1a1a1a"  stroke="#1a1a1a" stroke-width="0.31">600</text>
<line x1="44.00" y1="367.20" x2="49.00" y2="367.20" stroke="#1a1a1a" stroke-width="2.4" stroke-linecap="butt"/>
<text x="43.50" y="370.60" font-size="10.3" text-anchor="end" font-weight="bold" font-style="normal" fill="#1a1a1a"  stroke="#1a1a1a" stroke-width="0.31">400</text>
<line x1="44.00" y1="398.30" x2="49.00" y2="398.30" stroke="#1a1a1a" stroke-width="2.4" stroke-linecap="butt"/>
<text x="43.50" y="401.70" font-size="10.3" text-anchor="end" font-weight="bold" font-style="normal" fill="#1a1a1a"  stroke="#1a1a1a" stroke-width="0.31">200</text>
<line x1="44.00" y1="429.00" x2="49.00" y2="429.00" stroke="#1a1a1a" stroke-width="2.4" stroke-linecap="butt"/>
<text x="43.50" y="432.40" font-size="10.3" text-anchor="end" font-weight="bold" font-style="normal" fill="#1a1a1a"  stroke="#1a1a1a" stroke-width="0.31">0</text>
<text transform="translate(12.6,325) rotate(-90)" font-size="12.6" font-weight="bold" text-anchor="middle" textLength="164.5" lengthAdjust="spacingAndGlyphs" fill="#1a1a1a">IFN-<tspan font-family="Liberation Serif, serif" font-style="italic" font-weight="normal" font-size="13">γ</tspan> concentration (pg/ml)</text>
<line x1="67.30" y1="413.50" x2="67.30" y2="418.90" stroke="#1a1a1a" stroke-width="2.5" stroke-linecap="butt"/>
<line x1="62.90" y1="414.55" x2="71.70" y2="414.55" stroke="#1a1a1a" stroke-width="2.5" stroke-linecap="butt"/>
<rect x="60.45" y="418.55" width="13.70" height="10.45" fill="#fff" stroke="#1a1a1a" stroke-width="2.5"/>
<line x1="88.90" y1="395.90" x2="88.90" y2="400.50" stroke="#1a1a1a" stroke-width="2.5" stroke-linecap="butt"/>
<line x1="84.50" y1="396.95" x2="93.30" y2="396.95" stroke="#1a1a1a" stroke-width="2.5" stroke-linecap="butt"/>
<rect x="82.05" y="400.15" width="13.70" height="28.85" fill="url(#pn)" stroke="#1a1a1a" stroke-width="2.5"/>
<line x1="110.70" y1="394.90" x2="110.70" y2="400.50" stroke="#1a1a1a" stroke-width="2.5" stroke-linecap="butt"/>
<line x1="106.30" y1="395.95" x2="115.10" y2="395.95" stroke="#1a1a1a" stroke-width="2.5" stroke-linecap="butt"/>
<rect x="103.85" y="400.15" width="13.70" height="28.85" fill="url(#np)" stroke="#1a1a1a" stroke-width="2.5"/>
<line x1="132.50" y1="382.10" x2="132.50" y2="390.90" stroke="#1a1a1a" stroke-width="2.5" stroke-linecap="butt"/>
<line x1="128.10" y1="383.15" x2="136.90" y2="383.15" stroke="#1a1a1a" stroke-width="2.5" stroke-linecap="butt"/>
<rect x="125.65" y="390.55" width="13.70" height="38.45" fill="url(#nn)" stroke="#1a1a1a" stroke-width="2.5"/>
<line x1="154.85" y1="267.20" x2="154.85" y2="287.70" stroke="#1a1a1a" stroke-width="2.5" stroke-linecap="butt"/>
<line x1="150.45" y1="268.25" x2="159.25" y2="268.25" stroke="#1a1a1a" stroke-width="2.5" stroke-linecap="butt"/>
<rect x="147.85" y="287.35" width="14.00" height="141.65" fill="url(#pd)" stroke="#1a1a1a" stroke-width="2.5"/>
<line x1="176.70" y1="292.90" x2="176.70" y2="318.80" stroke="#1a1a1a" stroke-width="2.5" stroke-linecap="butt"/>
<line x1="172.30" y1="293.95" x2="181.10" y2="293.95" stroke="#1a1a1a" stroke-width="2.5" stroke-linecap="butt"/>
<rect x="169.25" y="318.45" width="14.90" height="110.55" fill="#1a1a1a" stroke="#1a1a1a" stroke-width="2.5"/>
<line x1="213.60" y1="352.20" x2="213.60" y2="374.30" stroke="#1a1a1a" stroke-width="2.5" stroke-linecap="butt"/>
<line x1="209.20" y1="353.25" x2="218.00" y2="353.25" stroke="#1a1a1a" stroke-width="2.5" stroke-linecap="butt"/>
<rect x="206.55" y="373.95" width="14.10" height="55.05" fill="#fff" stroke="#1a1a1a" stroke-width="2.5"/>
<line x1="235.20" y1="386.90" x2="235.20" y2="393.00" stroke="#1a1a1a" stroke-width="2.5" stroke-linecap="butt"/>
<line x1="230.80" y1="387.95" x2="239.60" y2="387.95" stroke="#1a1a1a" stroke-width="2.5" stroke-linecap="butt"/>
<rect x="228.15" y="392.65" width="14.10" height="36.35" fill="url(#pn)" stroke="#1a1a1a" stroke-width="2.5"/>
<line x1="257.30" y1="377.30" x2="257.30" y2="388.50" stroke="#1a1a1a" stroke-width="2.5" stroke-linecap="butt"/>
<line x1="252.90" y1="378.35" x2="261.70" y2="378.35" stroke="#1a1a1a" stroke-width="2.5" stroke-linecap="butt"/>
<rect x="250.15" y="388.15" width="14.30" height="40.85" fill="url(#np)" stroke="#1a1a1a" stroke-width="2.5"/>
<line x1="279.35" y1="342.60" x2="279.35" y2="358.30" stroke="#1a1a1a" stroke-width="2.5" stroke-linecap="butt"/>
<line x1="274.95" y1="343.65" x2="283.75" y2="343.65" stroke="#1a1a1a" stroke-width="2.5" stroke-linecap="butt"/>
<rect x="272.35" y="357.95" width="14.00" height="71.05" fill="url(#nn)" stroke="#1a1a1a" stroke-width="2.5"/>
<line x1="301.50" y1="284.90" x2="301.50" y2="314.10" stroke="#1a1a1a" stroke-width="2.5" stroke-linecap="butt"/>
<line x1="297.10" y1="285.95" x2="305.90" y2="285.95" stroke="#1a1a1a" stroke-width="2.5" stroke-linecap="butt"/>
<rect x="294.35" y="313.75" width="14.30" height="115.25" fill="url(#pd)" stroke="#1a1a1a" stroke-width="2.5"/>
<line x1="323.75" y1="278.70" x2="323.75" y2="301.30" stroke="#1a1a1a" stroke-width="2.5" stroke-linecap="butt"/>
<line x1="319.35" y1="279.75" x2="328.15" y2="279.75" stroke="#1a1a1a" stroke-width="2.5" stroke-linecap="butt"/>
<rect x="316.55" y="300.95" width="14.40" height="128.05" fill="#1a1a1a" stroke="#1a1a1a" stroke-width="2.5"/>
<rect x="52" y="327.8" width="290" height="8.2" fill="#fff"/>
<line x1="47.80" y1="429.00" x2="344.00" y2="429.00" stroke="#1a1a1a" stroke-width="2.7" stroke-linecap="butt"/>
<line x1="122.00" y1="429.00" x2="122.00" y2="433.00" stroke="#1a1a1a" stroke-width="2.4" stroke-linecap="butt"/>
<text x="121.90" y="445.30" font-size="13" text-anchor="middle" font-weight="bold" font-style="normal" fill="#1a1a1a"  stroke="#1a1a1a" stroke-width="0.39">7h</text>
<line x1="268.70" y1="429.00" x2="268.70" y2="433.00" stroke="#1a1a1a" stroke-width="2.4" stroke-linecap="butt"/>
<text x="268.50" y="445.30" font-size="13" text-anchor="middle" font-weight="bold" font-style="normal" fill="#1a1a1a"  stroke="#1a1a1a" stroke-width="0.39">96h</text>
<line x1="66.70" y1="239.50" x2="175.20" y2="239.50" stroke="#2a2a2a" stroke-width="1.4" stroke-linecap="butt"/>
<polygon points="113.45,234.10 114.04,235.69 115.73,235.76 114.40,236.81 114.86,238.44 113.45,237.50 112.04,238.44 112.50,236.81 111.17,235.76 112.86,235.69" fill="#222"/>
<polygon points="118.10,234.10 118.69,235.69 120.38,235.76 119.05,236.81 119.51,238.44 118.10,237.50 116.69,238.44 117.15,236.81 115.82,235.76 117.51,235.69" fill="#222"/>
<polygon points="122.75,234.10 123.34,235.69 125.03,235.76 123.70,236.81 124.16,238.44 122.75,237.50 121.34,238.44 121.80,236.81 120.47,235.76 122.16,235.69" fill="#222"/>
<line x1="66.70" y1="248.30" x2="153.30" y2="248.30" stroke="#2a2a2a" stroke-width="1.4" stroke-linecap="butt"/>
<polygon points="107.85,242.90 108.44,244.49 110.13,244.56 108.80,245.61 109.26,247.24 107.85,246.30 106.44,247.24 106.90,245.61 105.57,244.56 107.26,244.49" fill="#222"/>
<polygon points="112.50,242.90 113.09,244.49 114.78,244.56 113.45,245.61 113.91,247.24 112.50,246.30 111.09,247.24 111.55,245.61 110.22,244.56 111.91,244.49" fill="#222"/>
<polygon points="117.15,242.90 117.74,244.49 119.43,244.56 118.10,245.61 118.56,247.24 117.15,246.30 115.74,247.24 116.20,245.61 114.87,244.56 116.56,244.49" fill="#222"/>
<line x1="108.80" y1="256.90" x2="173.90" y2="256.90" stroke="#2a2a2a" stroke-width="1.4" stroke-linecap="butt"/>
<polygon points="135.30,251.50 135.89,253.09 137.58,253.16 136.25,254.21 136.71,255.84 135.30,254.90 133.89,255.84 134.35,254.21 133.02,253.16 134.71,253.09" fill="#222"/>
<polygon points="139.95,251.50 140.54,253.09 142.23,253.16 140.90,254.21 141.36,255.84 139.95,254.90 138.54,255.84 139.00,254.21 137.67,253.16 139.36,253.09" fill="#222"/>
<polygon points="144.60,251.50 145.19,253.09 146.88,253.16 145.55,254.21 146.01,255.84 144.60,254.90 143.19,255.84 143.65,254.21 142.32,253.16 144.01,253.09" fill="#222"/>
<line x1="129.90" y1="265.70" x2="173.90" y2="265.70" stroke="#2a2a2a" stroke-width="1.4" stroke-linecap="butt"/>
<polygon points="145.85,260.30 146.44,261.89 148.13,261.96 146.80,263.01 147.26,264.64 145.85,263.70 144.44,264.64 144.90,263.01 143.57,261.96 145.26,261.89" fill="#222"/>
<polygon points="150.50,260.30 151.09,261.89 152.78,261.96 151.45,263.01 151.91,264.64 150.50,263.70 149.09,264.64 149.55,263.01 148.22,261.96 149.91,261.89" fill="#222"/>
<polygon points="155.15,260.30 155.74,261.89 157.43,261.96 156.10,263.01 156.56,264.64 155.15,263.70 153.74,264.64 154.20,263.01 152.87,261.96 154.56,261.89" fill="#222"/>
<line x1="88.80" y1="358.10" x2="131.50" y2="358.10" stroke="#2a2a2a" stroke-width="1.4" stroke-linecap="butt"/>
<text x="109.35" y="357.30" font-size="6.4" text-anchor="middle" font-weight="normal" font-style="normal" fill="#1a1a1a" stroke="#222" stroke-width="0.3" textLength="7.4" lengthAdjust="spacingAndGlyphs">NS</text>
<line x1="88.80" y1="367.20" x2="108.50" y2="367.20" stroke="#2a2a2a" stroke-width="1.4" stroke-linecap="butt"/>
<text x="97.85" y="366.40" font-size="6.4" text-anchor="middle" font-weight="normal" font-style="normal" fill="#1a1a1a" stroke="#222" stroke-width="0.3" textLength="7.4" lengthAdjust="spacingAndGlyphs">NS</text>
<line x1="111.50" y1="367.20" x2="131.50" y2="367.20" stroke="#2a2a2a" stroke-width="1.4" stroke-linecap="butt"/>
<text x="120.70" y="366.40" font-size="6.4" text-anchor="middle" font-weight="normal" font-style="normal" fill="#1a1a1a" stroke="#222" stroke-width="0.3" textLength="7.4" lengthAdjust="spacingAndGlyphs">NS</text>
<line x1="66.70" y1="375.50" x2="130.70" y2="375.50" stroke="#2a2a2a" stroke-width="1.4" stroke-linecap="butt"/>
<text x="100.00" y="374.70" font-size="6.4" text-anchor="middle" font-weight="normal" font-style="normal" fill="#1a1a1a" stroke="#222" stroke-width="0.3" textLength="7.4" lengthAdjust="spacingAndGlyphs">NS</text>
<line x1="66.70" y1="384.50" x2="110.10" y2="384.50" stroke="#2a2a2a" stroke-width="1.4" stroke-linecap="butt"/>
<text x="87.60" y="383.70" font-size="6.4" text-anchor="middle" font-weight="normal" font-style="normal" fill="#1a1a1a" stroke="#222" stroke-width="0.3" textLength="7.4" lengthAdjust="spacingAndGlyphs">NS</text>
<line x1="66.70" y1="393.60" x2="87.50" y2="393.60" stroke="#2a2a2a" stroke-width="1.4" stroke-linecap="butt"/>
<text x="76.30" y="392.80" font-size="6.4" text-anchor="middle" font-weight="normal" font-style="normal" fill="#1a1a1a" stroke="#222" stroke-width="0.3" textLength="7.4" lengthAdjust="spacingAndGlyphs">NS</text>
<line x1="216.80" y1="250.50" x2="325.30" y2="250.50" stroke="#2a2a2a" stroke-width="1.4" stroke-linecap="butt"/>
<polygon points="263.35,245.10 263.94,246.69 265.63,246.76 264.30,247.81 264.76,249.44 263.35,248.50 261.94,249.44 262.40,247.81 261.07,246.76 262.76,246.69" fill="#222"/>
<polygon points="268.00,245.10 268.59,246.69 270.28,246.76 268.95,247.81 269.41,249.44 268.00,248.50 266.59,249.44 267.05,247.81 265.72,246.76 267.41,246.69" fill="#222"/>
<polygon points="272.65,245.10 273.24,246.69 274.93,246.76 273.60,247.81 274.06,249.44 272.65,248.50 271.24,249.44 271.70,247.81 270.37,246.76 272.06,246.69" fill="#222"/>
<line x1="216.80" y1="259.00" x2="303.20" y2="259.00" stroke="#2a2a2a" stroke-width="1.4" stroke-linecap="butt"/>
<polygon points="258.05,253.60 258.64,255.19 260.33,255.26 259.00,256.31 259.46,257.94 258.05,257.00 256.64,257.94 257.10,256.31 255.77,255.26 257.46,255.19" fill="#222"/>
<polygon points="262.70,253.60 263.29,255.19 264.98,255.26 263.65,256.31 264.11,257.94 262.70,257.00 261.29,257.94 261.75,256.31 260.42,255.26 262.11,255.19" fill="#222"/>
<polygon points="267.35,253.60 267.94,255.19 269.63,255.26 268.30,256.31 268.76,257.94 267.35,257.00 265.94,257.94 266.40,256.31 265.07,255.26 266.76,255.19" fill="#222"/>
<line x1="259.20" y1="267.80" x2="324.00" y2="267.80" stroke="#2a2a2a" stroke-width="1.4" stroke-linecap="butt"/>
<polygon points="285.55,262.40 286.14,263.99 287.83,264.06 286.50,265.11 286.96,266.74 285.55,265.80 284.14,266.74 284.60,265.11 283.27,264.06 284.96,263.99" fill="#222"/>
<polygon points="290.20,262.40 290.79,263.99 292.48,264.06 291.15,265.11 291.61,266.74 290.20,265.80 288.79,266.74 289.25,265.11 287.92,264.06 289.61,263.99" fill="#222"/>
<polygon points="294.85,262.40 295.44,263.99 297.13,264.06 295.80,265.11 296.26,266.74 294.85,265.80 293.44,266.74 293.90,265.11 292.57,264.06 294.26,263.99" fill="#222"/>
<line x1="280.00" y1="276.90" x2="323.50" y2="276.90" stroke="#2a2a2a" stroke-width="1.4" stroke-linecap="butt"/>
<polygon points="294.55,271.50 295.14,273.09 296.83,273.16 295.50,274.21 295.96,275.84 294.55,274.90 293.14,275.84 293.60,274.21 292.27,273.16 293.96,273.09" fill="#222"/>
<polygon points="299.20,271.50 299.79,273.09 301.48,273.16 300.15,274.21 300.61,275.84 299.20,274.90 297.79,275.84 298.25,274.21 296.92,273.16 298.61,273.09" fill="#222"/>
<polygon points="303.85,271.50 304.44,273.09 306.13,273.16 304.80,274.21 305.26,275.84 303.85,274.90 302.44,275.84 302.90,274.21 301.57,273.16 303.26,273.09" fill="#222"/>
<line x1="234.10" y1="320.90" x2="278.10" y2="320.90" stroke="#2a2a2a" stroke-width="1.4" stroke-linecap="butt"/>
<text x="255.30" y="320.10" font-size="6.4" text-anchor="middle" font-weight="normal" font-style="normal" fill="#1a1a1a" stroke="#222" stroke-width="0.3" textLength="7.4" lengthAdjust="spacingAndGlyphs">NS</text>
<line x1="213.90" y1="330.70" x2="278.10" y2="330.70" stroke="#2a2a2a" stroke-width="1.4" stroke-linecap="butt"/>
<text x="245.20" y="329.90" font-size="6.4" text-anchor="middle" font-weight="normal" font-style="normal" fill="#1a1a1a" stroke="#222" stroke-width="0.3" textLength="7.4" lengthAdjust="spacingAndGlyphs">NS</text>
<line x1="213.90" y1="340.00" x2="256.50" y2="340.00" stroke="#2a2a2a" stroke-width="1.4" stroke-linecap="butt"/>
<text x="236.50" y="339.20" font-size="6.4" text-anchor="middle" font-weight="normal" font-style="normal" fill="#1a1a1a" stroke="#222" stroke-width="0.3" textLength="7.4" lengthAdjust="spacingAndGlyphs">NS</text>
<line x1="258.10" y1="340.00" x2="278.10" y2="340.00" stroke="#2a2a2a" stroke-width="1.4" stroke-linecap="butt"/>
<text x="267.30" y="339.20" font-size="6.4" text-anchor="middle" font-weight="normal" font-style="normal" fill="#1a1a1a" stroke="#222" stroke-width="0.3" textLength="7.4" lengthAdjust="spacingAndGlyphs">NS</text>
<line x1="213.90" y1="349.30" x2="234.10" y2="349.30" stroke="#2a2a2a" stroke-width="1.4" stroke-linecap="butt"/>
<text x="223.20" y="348.50" font-size="6.4" text-anchor="middle" font-weight="normal" font-style="normal" fill="#1a1a1a" stroke="#222" stroke-width="0.3" textLength="7.4" lengthAdjust="spacingAndGlyphs">NS</text>
<line x1="236.50" y1="374.70" x2="255.50" y2="374.70" stroke="#2a2a2a" stroke-width="1.4" stroke-linecap="butt"/>
<text x="245.20" y="373.90" font-size="6.4" text-anchor="middle" font-weight="normal" font-style="normal" fill="#1a1a1a" stroke="#222" stroke-width="0.3" textLength="7.4" lengthAdjust="spacingAndGlyphs">NS</text>
<rect x="393.95" y="297.65" width="11.6" height="11.5" fill="#fff" stroke="#1a1a1a" stroke-width="2.3"/>
<text x="412.80" y="308.20" font-size="14" text-anchor="start" font-weight="normal" font-style="normal" fill="#1a1a1a" >PP</text>
<rect x="393.95" y="320.84999999999997" width="11.6" height="11.5" fill="url(#np)" stroke="#1a1a1a" stroke-width="2.3"/>
<text x="412.80" y="331.40" font-size="14" text-anchor="start" font-weight="normal" font-style="normal" fill="#1a1a1a" >NP</text>
<rect x="393.95" y="344.04999999999995" width="11.6" height="11.5" fill="url(#pd)" stroke="#1a1a1a" stroke-width="2.3"/>
<text x="412.80" y="354.60" font-size="14" text-anchor="start" font-weight="normal" font-style="normal" fill="#1a1a1a" >P</text>
<rect x="449.15" y="297.65" width="11.6" height="11.5" fill="url(#pn)" stroke="#1a1a1a" stroke-width="2.3"/>
<text x="468.00" y="308.20" font-size="14" text-anchor="start" font-weight="normal" font-style="normal" fill="#1a1a1a" >PN</text>
<rect x="449.15" y="320.84999999999997" width="11.6" height="11.5" fill="url(#nn)" stroke="#1a1a1a" stroke-width="2.3"/>
<text x="468.00" y="331.40" font-size="14" text-anchor="start" font-weight="normal" font-style="normal" fill="#1a1a1a" >NN</text>
<rect x="449.15" y="344.04999999999995" width="11.6" height="11.5" fill="#1a1a1a" stroke="#1a1a1a" stroke-width="2.3"/>
<text x="468.00" y="354.60" font-size="14" text-anchor="start" font-weight="normal" font-style="normal" fill="#1a1a1a" >N</text>
<text x="2.40" y="464.00" font-size="20" text-anchor="start" font-weight="bold" font-style="normal" fill="#1a1a1a" textLength="11.5" lengthAdjust="spacingAndGlyphs" stroke="#1a1a1a" stroke-width="0.60">d</text>
<line x1="45.40" y1="465.70" x2="45.40" y2="661.00" stroke="#1a1a1a" stroke-width="1.9" stroke-linecap="butt"/>
<line x1="40.40" y1="466.60" x2="45.40" y2="466.60" stroke="#1a1a1a" stroke-width="1.9" stroke-linecap="butt"/>
<text x="39.30" y="469.60" font-size="11" text-anchor="end" font-weight="bold" font-style="normal" fill="#1a1a1a" stroke="none">1000</text>
<line x1="40.40" y1="531.00" x2="45.40" y2="531.00" stroke="#1a1a1a" stroke-width="1.9" stroke-linecap="butt"/>
<text x="39.30" y="534.70" font-size="11" text-anchor="end" font-weight="bold" font-style="normal" fill="#1a1a1a" stroke="none">100</text>
<line x1="40.40" y1="595.50" x2="45.40" y2="595.50" stroke="#1a1a1a" stroke-width="1.9" stroke-linecap="butt"/>
<text x="39.30" y="599.20" font-size="11" text-anchor="end" font-weight="bold" font-style="normal" fill="#1a1a1a" stroke="none">10</text>
<line x1="40.40" y1="660.00" x2="45.40" y2="660.00" stroke="#1a1a1a" stroke-width="1.9" stroke-linecap="butt"/>
<text x="39.30" y="663.70" font-size="11" text-anchor="end" font-weight="bold" font-style="normal" fill="#1a1a1a" stroke="none">1</text>
<text x="0.00" y="0.00" font-size="12.8" text-anchor="middle" font-weight="bold" font-style="normal" fill="#1a1a1a" transform="translate(13.2,560.5) rotate(-90)" textLength="72" lengthAdjust="spacingAndGlyphs" stroke="#1a1a1a" stroke-width="0.38">fold change</text>
<line x1="77.60" y1="492.00" x2="77.60" y2="511.70" stroke="#1a1a1a" stroke-width="1.9" stroke-linecap="butt"/>
<line x1="70.60" y1="492.75" x2="84.60" y2="492.75" stroke="#1a1a1a" stroke-width="1.9" stroke-linecap="butt"/>
<rect x="64.90" y="511.60" width="25.40" height="148.40" fill="#fff" stroke="#1a1a1a" stroke-width="1.8"/>
<line x1="116.80" y1="565.20" x2="116.80" y2="577.10" stroke="#1a1a1a" stroke-width="1.9" stroke-linecap="butt"/>
<line x1="109.80" y1="565.95" x2="123.80" y2="565.95" stroke="#1a1a1a" stroke-width="1.9" stroke-linecap="butt"/>
<rect x="104.40" y="577.00" width="24.80" height="83.00" fill="#1a1a1a" stroke="#1a1a1a" stroke-width="1.8"/>
<line x1="156.15" y1="588.10" x2="156.15" y2="599.50" stroke="#1a1a1a" stroke-width="1.9" stroke-linecap="butt"/>
<line x1="149.15" y1="588.85" x2="163.15" y2="588.85" stroke="#1a1a1a" stroke-width="1.9" stroke-linecap="butt"/>
<rect x="143.30" y="599.40" width="25.70" height="60.60" fill="url(#pnd)" stroke="#1a1a1a" stroke-width="1.8"/>
<line x1="221.35" y1="552.50" x2="221.35" y2="567.80" stroke="#1a1a1a" stroke-width="1.9" stroke-linecap="butt"/>
<line x1="214.35" y1="553.25" x2="228.35" y2="553.25" stroke="#1a1a1a" stroke-width="1.9" stroke-linecap="butt"/>
<rect x="208.90" y="567.70" width="24.90" height="92.30" fill="#fff" stroke="#1a1a1a" stroke-width="1.8"/>
<line x1="260.80" y1="579.30" x2="260.80" y2="591.80" stroke="#1a1a1a" stroke-width="1.9" stroke-linecap="butt"/>
<line x1="253.80" y1="580.05" x2="267.80" y2="580.05" stroke="#1a1a1a" stroke-width="1.9" stroke-linecap="butt"/>
<rect x="248.40" y="591.70" width="24.80" height="68.30" fill="#1a1a1a" stroke="#1a1a1a" stroke-width="1.8"/>
<line x1="300.30" y1="615.30" x2="300.30" y2="625.10" stroke="#1a1a1a" stroke-width="1.9" stroke-linecap="butt"/>
<line x1="293.30" y1="616.05" x2="307.30" y2="616.05" stroke="#1a1a1a" stroke-width="1.9" stroke-linecap="butt"/>
<rect x="287.60" y="625.00" width="25.40" height="35.00" fill="url(#pnd)" stroke="#1a1a1a" stroke-width="1.8"/>
<line x1="44.40" y1="660.00" x2="332.70" y2="660.00" stroke="#1a1a1a" stroke-width="1.9" stroke-linecap="butt"/>
<line x1="116.80" y1="660.00" x2="116.80" y2="664.00" stroke="#1a1a1a" stroke-width="1.9" stroke-linecap="butt"/>
<text x="116.80" y="678.80" font-size="11.5" text-anchor="middle" font-weight="bold" font-style="italic" fill="#1a1a1a"  stroke="#1a1a1a" stroke-width="0.34">IL-10</text>
<line x1="260.80" y1="660.00" x2="260.80" y2="664.00" stroke="#1a1a1a" stroke-width="1.9" stroke-linecap="butt"/>
<text x="260.80" y="678.80" font-size="11.5" text-anchor="middle" font-weight="bold" font-style="italic" fill="#1a1a1a"  stroke="#1a1a1a" stroke-width="0.34">TGFB1</text>
<text x="76.30" y="488.30" font-size="11" font-weight="bold" text-anchor="middle" fill="#1a1a1a" stroke="#1a1a1a" stroke-width="0.25"><tspan font-style="italic">p</tspan>=0.031</text>
<text x="117.60" y="560.70" font-size="11" font-weight="bold" text-anchor="middle" fill="#1a1a1a" stroke="#1a1a1a" stroke-width="0.25"><tspan font-style="italic">p</tspan>=0.016</text>
<text x="156.70" y="582.50" font-size="11" font-weight="bold" text-anchor="middle" fill="#1a1a1a" stroke="#1a1a1a" stroke-width="0.25"><tspan font-style="italic">p</tspan>=0.031</text>
<text x="219.60" y="548.00" font-size="11" font-weight="bold" text-anchor="middle" fill="#1a1a1a" stroke="#1a1a1a" stroke-width="0.25"><tspan font-style="italic">p</tspan>=0.016</text>
<text x="261.40" y="575.90" font-size="11" font-weight="bold" text-anchor="middle" fill="#1a1a1a" stroke="#1a1a1a" stroke-width="0.25"><tspan font-style="italic">p</tspan>=0.078</text>
<text x="301.20" y="613.50" font-size="11" font-weight="bold" text-anchor="middle" fill="#1a1a1a" stroke="#1a1a1a" stroke-width="0.25"><tspan font-style="italic">p</tspan>=0.109</text>
<rect x="60.5" y="457.2" width="10.699999999999998" height="8.200000000000001" fill="#fff" stroke="#1a1a1a" stroke-width="1.6"/>
<text x="78.10" y="465.20" font-size="11.3" text-anchor="start" font-weight="bold" font-style="normal" fill="#1a1a1a"  stroke="#1a1a1a" stroke-width="0.34">PP-NN</text>
<rect x="136.20000000000002" y="457.2" width="11.599999999999989" height="8.200000000000001" fill="#1a1a1a" stroke="#1a1a1a" stroke-width="1.6"/>
<text x="155.00" y="465.20" font-size="11.3" text-anchor="start" font-weight="bold" font-style="normal" fill="#1a1a1a"  stroke="#1a1a1a" stroke-width="0.34">PP-NP</text>
<rect x="212.0" y="457.5" width="10.3" height="7.6000000000000005" fill="url(#pnl)" stroke="#1a1a1a" stroke-width="2.2"/>
<text x="230.50" y="465.20" font-size="11.3" text-anchor="start" font-weight="bold" font-style="normal" fill="#1a1a1a"  stroke="#1a1a1a" stroke-width="0.34">PP-PN</text>
<text x="332.40" y="464.00" font-size="20" text-anchor="start" font-weight="bold" font-style="normal" fill="#1a1a1a" textLength="9.6" lengthAdjust="spacingAndGlyphs" stroke="#1a1a1a" stroke-width="0.60">e</text>
<line x1="373.20" y1="463.20" x2="373.20" y2="661.00" stroke="#1a1a1a" stroke-width="1.9" stroke-linecap="butt"/>
<line x1="368.20" y1="464.20" x2="373.20" y2="464.20" stroke="#1a1a1a" stroke-width="1.9" stroke-linecap="butt"/>
<text x="367.60" y="468.00" font-size="11" text-anchor="end" font-weight="bold" font-style="normal" fill="#1a1a1a" stroke="none">100</text>
<line x1="368.20" y1="561.80" x2="373.20" y2="561.80" stroke="#1a1a1a" stroke-width="1.9" stroke-linecap="butt"/>
<text x="367.60" y="565.60" font-size="11" text-anchor="end" font-weight="bold" font-style="normal" fill="#1a1a1a" stroke="none">10</text>
<line x1="368.20" y1="660.00" x2="373.20" y2="660.00" stroke="#1a1a1a" stroke-width="1.9" stroke-linecap="butt"/>
<text x="367.60" y="663.80" font-size="11" text-anchor="end" font-weight="bold" font-style="normal" fill="#1a1a1a" stroke="none">1</text>
<text x="0.00" y="0.00" font-size="12.8" text-anchor="middle" font-weight="bold" font-style="normal" fill="#1a1a1a" transform="translate(346.2,560) rotate(-90)" textLength="72.5" lengthAdjust="spacingAndGlyphs" stroke="#1a1a1a" stroke-width="0.38">fold change</text>
<line x1="395.80" y1="528.50" x2="395.80" y2="549.80" stroke="#1a1a1a" stroke-width="1.9" stroke-linecap="butt"/>
<line x1="390.60" y1="529.25" x2="401.00" y2="529.25" stroke="#1a1a1a" stroke-width="1.9" stroke-linecap="butt"/>
<rect x="388.00" y="549.70" width="15.60" height="110.30" fill="#fff" stroke="#1a1a1a" stroke-width="1.8"/>
<line x1="422.05" y1="615.30" x2="422.05" y2="624.90" stroke="#1a1a1a" stroke-width="1.9" stroke-linecap="butt"/>
<line x1="416.85" y1="616.05" x2="427.25" y2="616.05" stroke="#1a1a1a" stroke-width="1.9" stroke-linecap="butt"/>
<rect x="413.90" y="624.80" width="16.30" height="35.20" fill="#1a1a1a" stroke="#1a1a1a" stroke-width="1.8"/>
<line x1="448.60" y1="598.80" x2="448.60" y2="614.50" stroke="#1a1a1a" stroke-width="1.9" stroke-linecap="butt"/>
<line x1="443.40" y1="599.55" x2="453.80" y2="599.55" stroke="#1a1a1a" stroke-width="1.9" stroke-linecap="butt"/>
<rect x="440.60" y="614.40" width="16.00" height="45.60" fill="url(#pe)" stroke="#1a1a1a" stroke-width="1.8"/>
<line x1="492.85" y1="492.00" x2="492.85" y2="513.00" stroke="#1a1a1a" stroke-width="1.9" stroke-linecap="butt"/>
<line x1="487.65" y1="492.75" x2="498.05" y2="492.75" stroke="#1a1a1a" stroke-width="1.9" stroke-linecap="butt"/>
<rect x="485.10" y="512.90" width="15.50" height="147.10" fill="#fff" stroke="#1a1a1a" stroke-width="1.8"/>
<line x1="519.15" y1="523.50" x2="519.15" y2="546.30" stroke="#1a1a1a" stroke-width="1.9" stroke-linecap="butt"/>
<line x1="513.95" y1="524.25" x2="524.35" y2="524.25" stroke="#1a1a1a" stroke-width="1.9" stroke-linecap="butt"/>
<rect x="510.90" y="546.20" width="16.50" height="113.80" fill="#1a1a1a" stroke="#1a1a1a" stroke-width="1.8"/>
<line x1="545.15" y1="605.50" x2="545.15" y2="616.90" stroke="#1a1a1a" stroke-width="1.9" stroke-linecap="butt"/>
<line x1="539.95" y1="606.25" x2="550.35" y2="606.25" stroke="#1a1a1a" stroke-width="1.9" stroke-linecap="butt"/>
<rect x="536.70" y="616.80" width="16.90" height="43.20" fill="url(#pe)" stroke="#1a1a1a" stroke-width="1.8"/>
<line x1="589.40" y1="582.00" x2="589.40" y2="601.10" stroke="#1a1a1a" stroke-width="1.9" stroke-linecap="butt"/>
<line x1="584.20" y1="582.75" x2="594.60" y2="582.75" stroke="#1a1a1a" stroke-width="1.9" stroke-linecap="butt"/>
<rect x="581.20" y="601.00" width="16.40" height="59.00" fill="#fff" stroke="#1a1a1a" stroke-width="1.8"/>
<line x1="616.35" y1="584.70" x2="616.35" y2="602.50" stroke="#1a1a1a" stroke-width="1.9" stroke-linecap="butt"/>
<line x1="611.15" y1="585.45" x2="621.55" y2="585.45" stroke="#1a1a1a" stroke-width="1.9" stroke-linecap="butt"/>
<rect x="607.90" y="602.40" width="16.90" height="57.60" fill="#1a1a1a" stroke="#1a1a1a" stroke-width="1.8"/>
<line x1="642.75" y1="577.50" x2="642.75" y2="596.30" stroke="#1a1a1a" stroke-width="1.9" stroke-linecap="butt"/>
<line x1="637.55" y1="578.25" x2="647.95" y2="578.25" stroke="#1a1a1a" stroke-width="1.9" stroke-linecap="butt"/>
<rect x="634.60" y="596.20" width="16.30" height="63.80" fill="url(#pe)" stroke="#1a1a1a" stroke-width="1.8"/>
<line x1="372.20" y1="660.00" x2="666.00" y2="660.00" stroke="#1a1a1a" stroke-width="1.9" stroke-linecap="butt"/>
<line x1="421.80" y1="660.00" x2="421.80" y2="664.00" stroke="#1a1a1a" stroke-width="1.9" stroke-linecap="butt"/>
<text x="421.80" y="678.80" font-size="11.8" text-anchor="middle" font-weight="bold" font-style="italic" fill="#1a1a1a" textLength="25.6" lengthAdjust="spacingAndGlyphs" stroke="#1a1a1a" stroke-width="0.35">EBI3</text>
<line x1="519.00" y1="660.00" x2="519.00" y2="664.00" stroke="#1a1a1a" stroke-width="1.9" stroke-linecap="butt"/>
<text x="518.00" y="678.80" font-size="11.8" text-anchor="middle" font-weight="bold" font-style="italic" fill="#1a1a1a" textLength="36.4" lengthAdjust="spacingAndGlyphs" stroke="#1a1a1a" stroke-width="0.35">IL-12A</text>
<line x1="616.00" y1="660.00" x2="616.00" y2="664.00" stroke="#1a1a1a" stroke-width="1.9" stroke-linecap="butt"/>
<text x="616.50" y="678.80" font-size="11.8" text-anchor="middle" font-weight="bold" font-style="italic" fill="#1a1a1a" textLength="36" lengthAdjust="spacingAndGlyphs" stroke="#1a1a1a" stroke-width="0.35">IL-27A</text>
<text x="397.30" y="523.50" font-size="11.4" font-weight="bold" text-anchor="middle" fill="#1a1a1a" stroke="#1a1a1a" stroke-width="0.25"><tspan font-style="italic">p</tspan>=0.016</text>
<text x="427.30" y="587.30" font-size="11.4" font-weight="bold" text-anchor="middle" fill="#1a1a1a" stroke="#1a1a1a" stroke-width="0.25"><tspan font-style="italic">p</tspan>=0.016</text>
<text x="450.80" y="570.50" font-size="11.4" font-weight="bold" text-anchor="middle" fill="#1a1a1a" stroke="#1a1a1a" stroke-width="0.25"><tspan font-style="italic">p</tspan>=0.031</text>
<text x="491.30" y="484.80" font-size="11.4" font-weight="bold" text-anchor="middle" fill="#1a1a1a" stroke="#1a1a1a" stroke-width="0.25"><tspan font-style="italic">p</tspan>=0.031</text>
<text x="525.30" y="519.20" font-size="11.4" font-weight="bold" text-anchor="middle" fill="#1a1a1a" stroke="#1a1a1a" stroke-width="0.25"><tspan font-style="italic">p</tspan>=0.016</text>
<text x="552.30" y="600.70" font-size="11.4" font-weight="bold" text-anchor="middle" fill="#1a1a1a" stroke="#1a1a1a" stroke-width="0.25"><tspan font-style="italic">p</tspan>=0.078</text>
<text x="591.40" y="553.30" font-size="11.4" font-weight="bold" text-anchor="middle" fill="#1a1a1a" stroke="#1a1a1a" stroke-width="0.25"><tspan font-style="italic">p</tspan>=0.875</text>
<text x="620.50" y="570.50" font-size="11.4" font-weight="bold" text-anchor="middle" fill="#1a1a1a" stroke="#1a1a1a" stroke-width="0.25"><tspan font-style="italic">p</tspan>=0.750</text>
<text x="649.00" y="553.30" font-size="11.4" font-weight="bold" text-anchor="middle" fill="#1a1a1a" stroke="#1a1a1a" stroke-width="0.25"><tspan font-style="italic">p</tspan>=0.625</text>
<rect x="386.6" y="457.1" width="10.9" height="8.9" fill="#fff" stroke="#1a1a1a" stroke-width="1.6"/>
<text x="404.20" y="465.60" font-size="11.8" text-anchor="start" font-weight="bold" font-style="normal" fill="#1a1a1a"  stroke="#1a1a1a" stroke-width="0.35">PP-NN</text>
<rect x="462.3" y="457.1" width="11.200000000000012" height="8.9" fill="#1a1a1a" stroke="#1a1a1a" stroke-width="1.6"/>
<text x="481.00" y="465.60" font-size="11.8" text-anchor="start" font-weight="bold" font-style="normal" fill="#1a1a1a"  stroke="#1a1a1a" stroke-width="0.35">PP-NP</text>
<rect x="538.4" y="457.40000000000003" width="11.000000000000046" height="8.3" fill="url(#pnl)" stroke="#1a1a1a" stroke-width="2.2"/>
<text x="557.00" y="465.60" font-size="11.8" text-anchor="start" font-weight="bold" font-style="normal" fill="#1a1a1a"  stroke="#1a1a1a" stroke-width="0.35">PP-PN</text>
</g></svg>
</body></html>
